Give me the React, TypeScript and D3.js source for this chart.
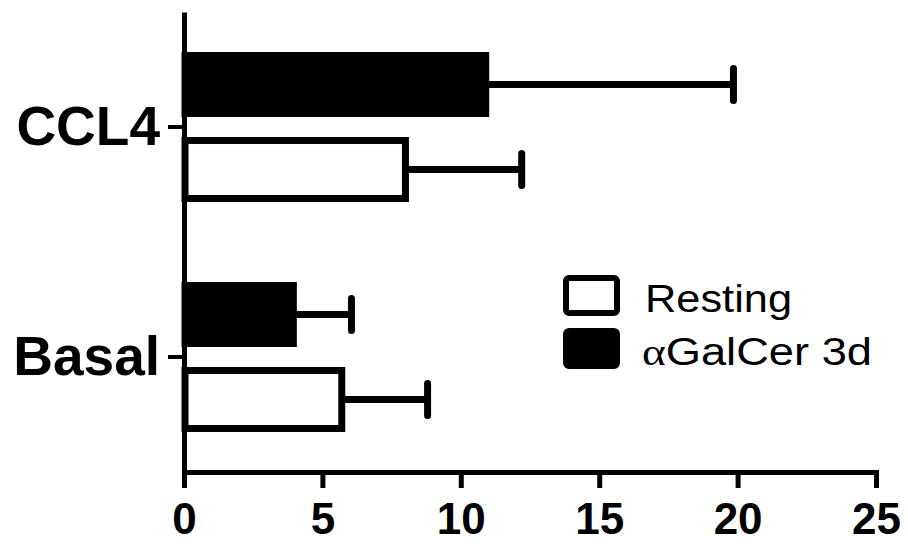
import React, { useEffect, useRef } from 'react';
import * as d3 from 'd3';

const categories = ['CCL4', 'Basal'];
const seriesNames = ['αGalCer 3d', 'Resting'];
const galcerValues = [10.9, 3.95];
const galcerErrors = [8.95, 2.1];
const restingValues = [8.0, 5.7];
const restingErrors = [4.2, 3.1];
const xTicks = [0, 5, 10, 15, 20, 25];

const W = 908;
const H = 544;
const FONT = "'Liberation Sans', Arial, sans-serif";

export default function App() {
  const ref = useRef<SVGSVGElement>(null);

  useEffect(() => {
    const svg = d3.select(ref.current);
    svg.selectAll('*').remove();

    const x = d3.scaleLinear().domain([0, 25]).range([184, 876]);
    const y = d3.scaleBand().domain(categories).range([12, 472]).padding(0);
    const inner = d3.scaleBand()
      .domain(seriesNames)
      .range([43.5, y.bandwidth() - 43.5])
      .paddingInner(0.318);

    const rows = categories.flatMap((c, i) => [
      { cat: c, series: seriesNames[0], value: galcerValues[i], err: galcerErrors[i], fill: '#000' },
      { cat: c, series: seriesNames[1], value: restingValues[i], err: restingErrors[i], fill: '#fff' },
    ]);

    // error bars first so the bar covers the inner part
    const eb = svg.append('g');
    rows.forEach(d => {
      const cy = (y(d.cat) as number) + (inner(d.series) as number) + inner.bandwidth() / 2;
      eb.append('line')
        .attr('x1', x(d.value)).attr('x2', x(d.value + d.err))
        .attr('y1', cy).attr('y2', cy)
        .attr('stroke', '#000').attr('stroke-width', 7);
      eb.append('line')
        .attr('x1', x(d.value + d.err)).attr('x2', x(d.value + d.err))
        .attr('y1', cy - 16).attr('y2', cy + 16)
        .attr('stroke', '#000').attr('stroke-width', 7)
        .attr('stroke-linecap', 'round');
    });

    svg.append('g')
      .selectAll('rect')
      .data(rows)
      .join('rect')
      .attr('x', x(0) + 1)
      .attr('y', d => (y(d.cat) as number) + (inner(d.series) as number))
      .attr('width', d => x(d.value) - x(0) - 1)
      .attr('height', inner.bandwidth())
      .attr('fill', d => d.fill)
      .attr('stroke', '#000')
      .attr('stroke-width', 7);

    const xAxis = svg.append('g')
      .attr('transform', 'translate(0,472)')
      .call(d3.axisBottom(x).tickValues(xTicks).tickSize(16).tickSizeOuter(0).tickPadding(15));
    xAxis.select('.domain').attr('stroke-width', 5).attr('stroke-linecap', 'square');
    xAxis.selectAll('.tick line').attr('stroke-width', 5);
    xAxis.selectAll('.tick text')
      .attr('font-family', FONT)
      .attr('font-size', 44)
      .attr('font-weight', 'bold')
      .attr('fill', '#000');

    const yAxis = svg.append('g')
      .attr('transform', 'translate(184,0)')
      .call(d3.axisLeft(y).tickSize(16).tickSizeOuter(0).tickPadding(8));
    yAxis.select('.domain').attr('stroke-width', 5);
    yAxis.selectAll('.tick line').attr('stroke-width', 4);
    yAxis.selectAll('.tick text')
      .attr('font-family', FONT)
      .attr('font-size', 55)
      .attr('font-weight', 'bold')
      .attr('fill', '#000');

    // legend
    const legend = svg.append('g').attr('transform', 'translate(566,278)');
    const items = [
      { label: 'Resting', fill: '#fff' },
      { label: 'αGalCer 3d', fill: '#000' },
    ];
    items.forEach((it, i) => {
      const g = legend.append('g').attr('transform', `translate(0,${i * 53})`);
      g.append('rect')
        .attr('width', 51).attr('height', 35)
        .attr('rx', 3)
        .attr('fill', it.fill)
        .attr('stroke', '#000').attr('stroke-width', 6);
      const t = g.append('text')
        .attr('x', i === 0 ? 79 : 76)
        .attr('y', 34)
        .attr('font-family', FONT)
        .attr('font-size', 38)
        .attr('fill', '#000')
        .attr('textLength', i === 0 ? 147 : 230)
        .attr('lengthAdjust', 'spacingAndGlyphs');
      if (it.label.startsWith('α')) {
        t.append('tspan').attr('font-family', "'Liberation Serif', serif").text('α');
        t.append('tspan').text(it.label.slice(1));
      } else {
        t.text(it.label);
      }
    });
  }, []);

  return (
    <svg
      ref={ref}
      width={W}
      height={H}
      style={{ position: 'absolute', left: 0, top: 0, background: '#fff' }}
    />
  );
}
